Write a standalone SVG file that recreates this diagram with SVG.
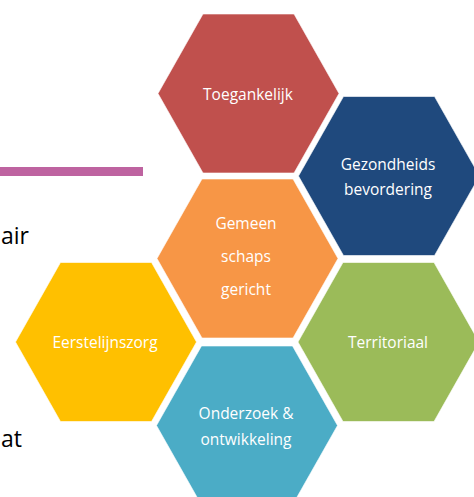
<svg xmlns="http://www.w3.org/2000/svg" xmlns:xlink="http://www.w3.org/1999/xlink" width="474" height="497" viewBox="0 0 474 497">
  <style>
    .hex { stroke: #ffffff; stroke-opacity: 0.6; stroke-width: 1; }
    .lbl { font-family: "Open Sans", "Noto Sans", sans-serif; font-size: 15.5px; fill: #ffffff; text-anchor: middle; }
    .body { font-family: "Open Sans", "Noto Sans", sans-serif; font-size: 23px; fill: #000000; text-anchor: end; }
  </style>
  <defs>
    <path id="hexshape" d="M-90.5,0 L-45.5,-79.5 L45.5,-79.5 L90.5,0 L45.5,79.5 L-45.5,79.5 Z"/>
  </defs>
  <rect width="474" height="497" fill="#ffffff"/>

  <g id="background-text">
    <rect x="0" y="167" width="143" height="9" fill="#BE63A0"/>
    <text class="body" x="29" y="244">air</text>
    <text class="body" x="22" y="447">at</text>
  </g>

  <g id="toegankelijk">
    <use xlink:href="#hexshape" class="hex" x="248.5" y="93.5" fill="#C0504D"/>
    <text class="lbl" x="248" y="100">Toegankelijk</text>
  </g>

  <g id="gezondheidsbevordering">
    <use xlink:href="#hexshape" class="hex" x="389" y="176" fill="#1F497D"/>
    <text class="lbl" x="388" y="169.5">Gezondheids</text>
    <text class="lbl" x="388" y="195">bevordering</text>
  </g>

  <g id="gemeenschapsgericht">
    <use xlink:href="#hexshape" class="hex" x="247.5" y="258.5" fill="#F79646"/>
    <text class="lbl" x="246" y="228.5">Gemeen</text>
    <text class="lbl" x="246" y="262">schaps</text>
    <text class="lbl" x="246" y="295">gericht</text>
  </g>

  <g id="eerstelijnszorg">
    <use xlink:href="#hexshape" class="hex" x="106" y="342" fill="#FFC000"/>
    <text class="lbl" x="105" y="348">Eerstelijnszorg</text>
  </g>

  <g id="territoriaal">
    <use xlink:href="#hexshape" class="hex" x="388.5" y="342" fill="#9BBB59"/>
    <text class="lbl" x="388" y="348">Territoriaal</text>
  </g>

  <g id="onderzoek">
    <use xlink:href="#hexshape" class="hex" x="247" y="425.5" fill="#4BACC6"/>
    <text class="lbl" x="246" y="418.5">Onderzoek &amp;</text>
    <text class="lbl" x="246" y="445">ontwikkeling</text>
  </g>
</svg>
